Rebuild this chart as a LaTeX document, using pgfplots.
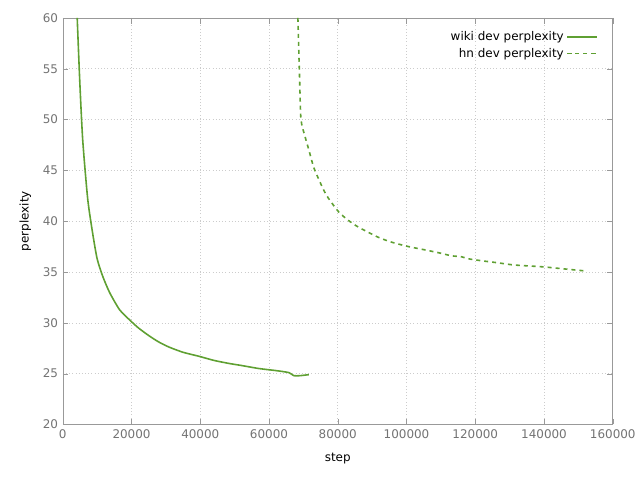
\documentclass[border=0pt]{standalone}
\usepackage{pgfplots}
\pgfplotsset{compat=1.18}
\usepackage{fontspec}
\setmainfont{DejaVu Sans}
\definecolor{gc}{HTML}{5FA032}
\begin{document}
\begin{tikzpicture}
\path (0,0) rectangle (480pt,360pt);
\begin{axis}[at={(47.25pt,40.5pt)}, anchor=origin,
 scale only axis, width=414pt, height=306pt,
 xmin=0, xmax=160000, ymin=20, ymax=60,
 xtick={0,20000,...,160000}, ytick={20,25,...,60},
 scaled x ticks=false,
 /pgf/number format/assume math mode=true,
 xticklabel style={/pgf/number format/fixed,/pgf/number format/1000 sep={}},
 tick label style={font=\fontsize{9}{11}\selectfont, text=gray!90!black},
 label style={font=\fontsize{9}{11}\selectfont},
 xlabel={step}, ylabel={perplexity},
 xlabel style={yshift=-4pt}, ylabel style={yshift=2pt},
 axis line style={gray!80}, tick style={gray!80},
 tick align=inside,
 grid=major, grid style={gray!40, dotted},
 legend style={draw=none, fill=none, at={(0.98,0.98)}, anchor=north east, font=\fontsize{9}{11}\selectfont, legend cell align=right},
 legend plot pos=right,
 legend image post style={xscale=1.3},
]
\addplot[gc, line width=1.2pt, smooth, tension=0.4] coordinates {
(4200,60) (4928,53.9) (5800,48) (7250,42.2) (8700,38.8) (10000,36.3) (11600,34.6) (13600,33.0) (16500,31.3) (19400,30.3) (22000,29.5) (25200,28.7) (28000,28.1) (31000,27.6) (35000,27.1) (39700,26.7) (44000,26.3) (48400,26.0) (52000,25.8) (57100,25.5) (62000,25.3) (65800,25.1) (67200,24.8) (69000,24.8) (71600,24.9)};
\addlegendentry{wiki dev perplexity}
\addplot[gc, line width=1.2pt, dashed, smooth, tension=0.4] coordinates {
(68400,60) (68900,54) (69300,50) (70500,48.3) (71600,47) (73000,45.3) (74500,44.1) (76000,43) (77400,42.2) (80300,40.9) (83000,40.1) (86100,39.4) (91900,38.4) (96000,37.9) (100600,37.5) (105000,37.2) (109300,36.9) (113000,36.6) (116000,36.5) (118000,36.3) (122000,36.1) (126700,35.9) (131000,35.7) (135400,35.6) (140000,35.5) (146000,35.3) (152200,35.1)};
\addlegendentry{hn dev perplexity}
\end{axis}
\end{tikzpicture}
\end{document}
